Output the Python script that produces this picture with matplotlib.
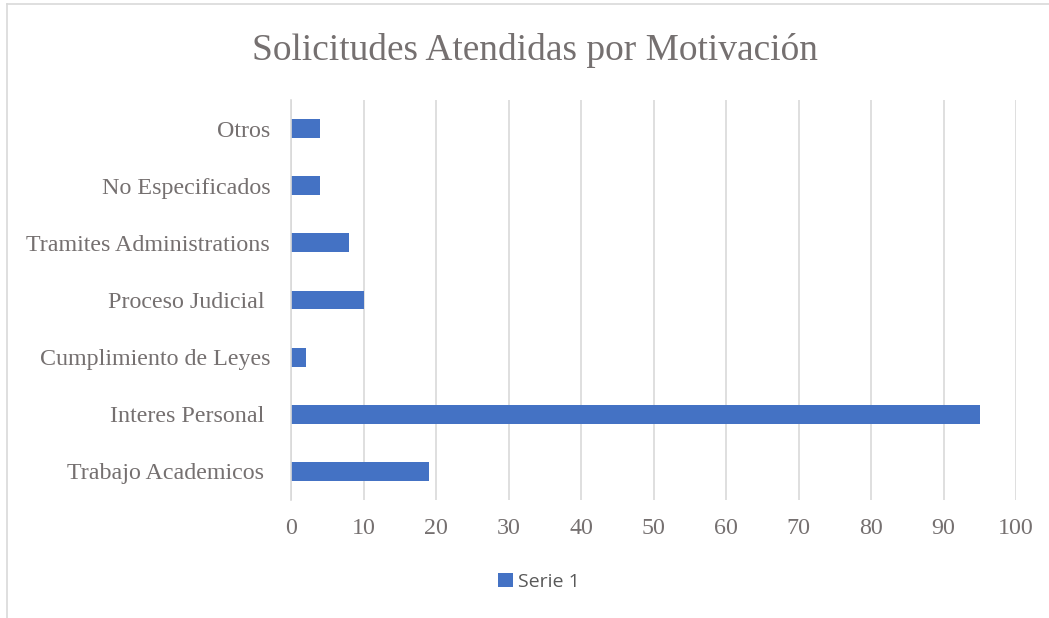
import matplotlib.pyplot as plt
from matplotlib.lines import Line2D

# data (bottom to top, as in the chart)
categories = ["Trabajo Academicos ", "Interes Personal ", "Cumplimiento de Leyes",
              "Proceso Judicial ", "Tramites Administrations", "No Especificados", "Otros"]
serie_1 = [19, 95, 2, 10, 8, 4, 4]
x_ticks = [0, 10, 20, 30, 40, 50, 60, 70, 80, 90, 100]

bar_color = "#4472C4"
text_color = "#757070"
grid_color = "#D9D9D9"

fig = plt.figure(figsize=(10.49, 6.18), dpi=100)
W, H = 1049, 618
ax = fig.add_axes([291 / W, 1 - 500 / H, (1016 - 291) / W, 400 / H])

bars = ax.barh(range(len(categories)), serie_1, height=0.33, color=bar_color, label="Serie 1")
ax.set_ylim(-0.5, len(categories) - 0.5)
ax.set_xlim(0, 100)
ax.set_xticks(x_ticks)
ax.set_yticks(range(len(categories)))
ax.set_yticklabels(categories)

for lbl in ax.get_yticklabels() + ax.get_xticklabels():
    lbl.set_family("Liberation Serif")
    lbl.set_fontsize(17.3)
    lbl.set_color(text_color)

ax.tick_params(axis="y", length=0, pad=15)
ax.tick_params(axis="x", length=0, pad=13)
ax.grid(True, axis="x", color=grid_color, linewidth=1.2)
ax.set_axisbelow(True)
for side in ["top", "right", "bottom"]:
    ax.spines[side].set_visible(False)
ax.spines["left"].set_color(grid_color)
ax.spines["left"].set_linewidth(1.2)

fig.text(0.5 * (252 + 818) / W, 1 - 50 / H, "Solicitudes Atendidas por Motivación",
         ha="center", va="center", family="Liberation Serif", fontsize=26.9, color=text_color)

leg = fig.legend(handles=[bars], labels=["Serie 1"], loc="center", bbox_to_anchor=(539 / W, 1 - 582 / H),
                 frameon=False, handlelength=0.75, handleheight=0.75, handletextpad=0.3,
                 prop={"family": "Open Sans", "size": 14})
for t in leg.get_texts():
    t.set_color("#595959")

# chart frame (cropped: only top and left edges visible)
fig.add_artist(Line2D([7 / W, 7 / W], [0, 1 - 4 / H], transform=fig.transFigure, color=grid_color, linewidth=1.2))
fig.add_artist(Line2D([7 / W, 1], [1 - 4 / H, 1 - 4 / H], transform=fig.transFigure, color=grid_color, linewidth=1.2))

fig.savefig("out.png", dpi=100)
